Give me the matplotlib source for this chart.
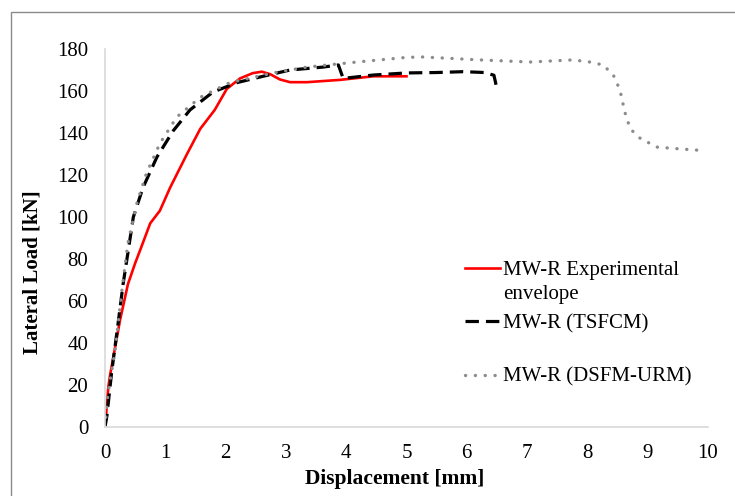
import matplotlib.pyplot as plt
from matplotlib.patches import Rectangle

# Experimental envelope (red)
exp_disp = [0.0, 0.03, 0.055, 0.08, 0.25, 0.38, 0.5, 0.58, 0.75, 0.91, 1.08, 1.36, 1.58,
            1.82, 2.02, 2.24, 2.45, 2.6, 2.74, 2.9, 3.07, 3.35, 3.9, 4.45, 5.0]
exp_load = [0.0, 10.0, 19.0, 24.0, 51.0, 68.0, 78.0, 84.0, 97.0, 103.0, 114.0, 130.0, 142.0,
            151.0, 161.0, 166.0, 168.5, 169.2, 168.0, 165.5, 164.2, 164.2, 165.3, 167.0, 167.0]

# TSFCM (black dashed)
tsf_disp = [0.0, 0.03, 0.11, 0.22, 0.3, 0.38, 0.47, 0.63, 0.86, 1.13, 1.41, 1.79, 2.19,
            2.62, 3.07, 3.62, 3.87, 3.9, 3.95, 4.45, 5.0, 5.5, 5.94, 6.3, 6.45, 6.5]
tsf_load = [0.0, 5.0, 26.0, 50.0, 68.0, 83.0, 100.0, 114.0, 128.5, 141.0, 151.0, 159.5, 164.0,
            167.0, 170.0, 171.4, 172.4, 170.0, 166.0, 167.6, 168.6, 168.8, 169.2, 168.8, 167.5, 161.0]

# DSFM-URM (grey dotted)
dsf_disp = [0.0, 0.05, 0.17, 0.28, 0.38, 0.53, 0.69, 0.91, 1.19, 1.58, 2.07, 2.79, 3.35,
            4.18, 5.0, 5.27, 6.22, 7.05, 7.76, 8.04, 8.26, 8.43, 8.54, 8.62, 8.71, 8.87,
            9.15, 9.54, 9.95]
dsf_load = [0.0, 16.0, 37.0, 65.0, 87.6, 106.7, 121.0, 135.0, 147.6, 157.0, 164.0, 168.6, 171.4,
            173.8, 176.0, 176.2, 174.8, 173.8, 174.8, 173.8, 172.4, 167.6, 160.5, 150.0, 142.0, 137.6,
            133.3, 132.4, 131.6]

x_ticks = list(range(0, 11))
y_ticks = list(range(0, 181, 20))

plt.rcParams['font.family'] = ['Liberation Serif', 'DejaVu Serif']

fig = plt.figure(figsize=(7.35, 4.96), dpi=100)
ax = fig.add_axes([105 / 735, 1 - 427 / 496, 603 / 735, 378 / 496])

l1, = ax.plot(exp_disp, exp_load, color='#ff0000', lw=1.9, label='MW-R Experimental')
l2, = ax.plot(tsf_disp, tsf_load, color='black', lw=2.3, linestyle=(0, (4.2, 2.2)),
              label='MW-R (TSFCM)')
l3, = ax.plot(dsf_disp, dsf_load, color='#8c8c8c', lw=2.4, linestyle=(0, (0.05, 2.9)),
              dash_capstyle='round', label='MW-R (DSFM-URM)')

ax.set_xlim(0, 10)
ax.set_ylim(0, 180)
ax.set_xticks(x_ticks)
ax.set_yticks(y_ticks)
ax.tick_params(length=0, labelsize=15)
ax.tick_params(axis='y', pad=12)
ax.tick_params(axis='x', pad=12)
for s in ['top', 'right']:
    ax.spines[s].set_visible(False)
for s in ['left', 'bottom']:
    ax.spines[s].set_color('#d9d9d9')
    ax.spines[s].set_linewidth(1.2)

ax.set_xlabel('Displacement [mm]', fontsize=15.5, fontweight='bold')
ax.set_ylabel('Lateral Load [kN]', fontsize=15, fontweight='bold')
ax.xaxis.set_label_coords(0.481, -0.112)
ax.yaxis.set_label_coords(-0.103, 0.41)

leg = ax.legend(handles=[l1, l2, l3], loc='upper left', bbox_to_anchor=(0.597, 0.44),
                frameon=False, fontsize=15, handlelength=1.68, handletextpad=0.15,
                labelspacing=1.62, borderpad=0, borderaxespad=0)
fig.text(503 / 735, 1 - 294 / 496, 'envelope', fontsize=15, va='center', ha='left')

# outer chart frame
fig.patches.append(Rectangle((11 / 735, -0.1), 1.2, 1.1 - 12 / 496, transform=fig.transFigure,
                             fill=False, edgecolor='#8a8a8a', lw=1.0))

fig.savefig('out.png', dpi=100)
